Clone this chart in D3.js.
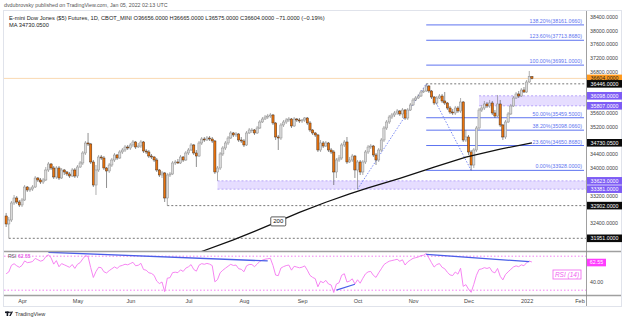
<!DOCTYPE html>
<html><head><meta charset="utf-8">
<script src="https://cdn.jsdelivr.net/npm/d3@7"></script>
<style>body{margin:0;background:#fff}svg{display:block;font-family:"Liberation Sans",Arial,sans-serif}</style>
</head><body><svg id="c" width="624" height="322"></svg>
<script>
// ---------- data ----------
const firstOpen = 32600;
const closes = [32368,32484,32979,33124,33008,32921,33066,33444,33357,33386,33444,33706,33648,33590,33648,33939,34114,33997,33735,33997,
33706,33939,33881,33823,33764,33939,33764,34026,34143,34434,34725,34696,34172,33502,33939,34317,34288,33997,33910,34084,
34230,34376,34288,34463,34521,34608,34579,34667,34754,34608,34637,34754,34492,34463,34346,34317,34230,33939,33794,33852,
33124,33794,33823,34143,34172,34143,34317,34230,34434,34521,34667,34434,34346,34725,34841,34812,34870,34841,34783,33881,
33997,34405,34579,34725,34870,35016,34958,34987,34812,34783,34667,35016,35103,35103,35016,35161,35336,35423,35481,35510,
35540,35307,34899,34870,35249,35336,35394,35423,35220,35423,35394,35365,35394,35452,35307,35103,35016,34958,34521,34725,
34637,34725,34521,34463,33881,34230,34288,34667,34754,34172,34230,34346,33939,34172,33881,34172,34463,34608,34637,34376,
34230,34521,34812,35161,35336,35481,35540,35598,35656,35569,35685,35452,35685,35831,35976,36034,36092,36209,36238,36383,
36238,36063,35889,36034,36092,35947,35889,35743,35627,35598,35743,35656,35918,34812,34899,34463,34084,34521,35161,35685,
35743,35860,35802,35889,35598,35510,35860,35249,34899,35336,35569,35802,36034,36151,36092,36267,36209,36500,36656,36604];
const highs = [32688,32571,33037,33212,33182,33066,33124,33502,33473,33444,33502,33764,33735,33706,33706,34026,34172,34143,34055,34055,
34055,33997,33968,33910,33881,33997,33997,34084,34201,34492,34783,35016,34725,34230,34084,34376,34376,34346,34026,34143,
34288,34434,34405,34521,34579,34667,34667,34725,34812,34783,34725,34812,34783,34550,34521,34405,34346,34288,33968,33910,
33881,33852,33881,34201,34230,34259,34376,34346,34492,34579,34725,34696,34521,34783,34899,34899,34928,34928,34899,34812,
34055,34463,34637,34783,34928,35074,35045,35045,35016,34899,34841,35074,35161,35161,35132,35220,35394,35481,35540,35569,
35598,35569,35336,34958,35307,35394,35452,35481,35452,35481,35452,35452,35423,35481,35481,35365,35132,35045,34987,34812,
34783,34783,34754,34579,34521,34288,34376,34725,34812,34899,34317,34405,34376,34230,34230,34230,34521,34667,34696,34667,
34434,34579,34870,35220,35394,35540,35598,35656,35714,35685,35743,35714,35743,35889,36034,36092,36151,36267,36325,36446,
36412,36267,36092,36092,36151,36151,36209,35918,35802,35714,35802,35802,36034,35947,35103,34958,34521,34579,35220,35743,
35831,35947,35918,35976,35947,35685,36122,35976,35278,35394,35627,35860,36092,36209,36238,36325,36354,36558,36820,36665];
const lows = [32280,31951,32426,32921,32950,32862,32862,33037,33299,33299,33328,33415,33590,33532,33532,33619,33881,33939,33677,33677,
33648,33677,33794,33764,33706,33735,33706,33706,33997,34084,34376,34637,34114,33444,33212,33881,34230,33939,33415,33852,
34026,34172,34230,34259,34405,34463,34521,34521,34608,34550,34579,34579,34434,34405,34288,34259,34172,33881,33735,33706,
33008,32902,33735,33794,34084,34114,34114,34172,34201,34376,34492,34376,34026,34317,34667,34754,34783,34783,34725,33823,
33623,33939,34346,34521,34667,34841,34899,34899,34754,34725,34608,34637,34987,35016,34958,34987,35132,35307,35394,35423,
35452,35249,34812,34521,34812,35190,35278,35336,35161,35190,35336,35307,35307,35336,35249,35045,34958,34899,34463,34463,
34579,34608,34463,34405,33502,33706,34172,34230,34608,34114,34143,34172,33706,33381,33794,33794,34114,34405,34550,34317,
34084,34172,34463,34754,35103,35278,35423,35481,35540,35510,35452,35394,35394,35656,35802,35947,36005,36063,36180,36209,
36180,36005,35831,35831,36005,35889,35831,35685,35569,35540,35540,35598,35598,34754,34754,34376,33928,33997,34463,35103,
35627,35685,35743,35743,35540,35452,35481,35190,34812,34841,35307,35540,35772,36005,36034,36063,36180,36180,36471,36575];

const maIdx = [70,75,86,94,103,111,121,130,137,149,162,174,187,199];
const maVal = [31450,31596,31903,32151,32443,32706,33000,33246,33421,33698,34020,34312,34545,34730.05];

const monthLabels = ["Apr","May","Jun","Jul","Aug","Sep","Oct","Nov","Dec","2022","Feb"];
const monthIdx    = [6,27,47,69,90,112,133,154,175,197,217];

const fibPct = ["138.20%","123.60%","100.00%","50.00%","38.20%","23.60%","0.00%"];
const fibVal = [38161.066,37713.868,36991,35459.5,35098.066,34650.868,33928];
const fibStartIdx = 159;

const zoneTop = [36098,33623], zoneBot = [35807,33381], zoneStartIdx = [179,80];
const hLineVal = [36446,32902,31951], hLineStartIdx = [159,61,1];
const swingIdx = [133,159,176], swingVal = [33381,36446,33928];

const axisLabelVal = [36604,36446,36098,35807,34730.05,33623,33381,32902,31951];
const axisLabelKind = ["last","black","zone","zone","black","zone","zone","black","black"];

const rsiSeedGain = 110, rsiSeedLoss = 95;
const rsiTL = [[16,74.6,99,64.4],[125,30.2,132,37],[159,72.2,198,63.5]];
const rsiLastText = "62.55";

// ---------- layout ----------
const svg = d3.select("#c");
const plotR = 586, mainTop = 12, mainBot = 251, rsiTop = 252, rsiBot = 295;
const x = d3.scaleLinear().domain([0,199]).range([6.15, 6.15+199*2.642]);
const y = d3.scaleLinear().domain([31951,38400]).range([238.3,16.7]);
const yr = d3.scaleLinear().domain([30,70]).range([290.2,256.2]);

const defs = svg.append("defs");
defs.append("clipPath").attr("id","cm").append("rect").attr("x",4).attr("y",mainTop).attr("width",plotR-4).attr("height",mainBot-mainTop);
defs.append("clipPath").attr("id","cr").append("rect").attr("x",4).attr("y",rsiTop).attr("width",plotR-4).attr("height",rsiBot-rsiTop);

// frame
svg.append("rect").attr("x",3.5).attr("y",10.5).attr("width",618).attr("height",296).attr("fill","#fff").attr("stroke","#e0e3eb");

const main = svg.append("g").attr("clip-path","url(#cm)");

// zones
zoneTop.forEach((t,k)=>{
  const x0 = x(zoneStartIdx[k]);
  main.append("rect").attr("x",x0).attr("y",y(t)).attr("width",plotR-x0).attr("height",y(zoneBot[k])-y(t)).attr("fill","#e6ddff");
  [t,zoneBot[k]].forEach(v=>main.append("line").attr("x1",x0).attr("x2",plotR).attr("y1",y(v)).attr("y2",y(v))
     .attr("stroke","#9d86f5").attr("stroke-width",0.7).attr("stroke-dasharray","2,2"));
});
// horizontal dashed levels
hLineVal.forEach((v,k)=>main.append("line").attr("x1",x(hLineStartIdx[k])).attr("x2",plotR).attr("y1",y(v)).attr("y2",y(v))
   .attr("stroke","#555").attr("stroke-width",0.8).attr("stroke-dasharray","2,2"));
// last price line
main.append("line").attr("x1",4).attr("x2",plotR).attr("y1",y(closes[199])).attr("y2",y(closes[199])).attr("stroke","#f8cfa0").attr("stroke-width",0.8);
// fib lines
fibVal.forEach((v,k)=>{
  main.append("line").attr("x1",x(fibStartIdx)).attr("x2",584).attr("y1",y(v)).attr("y2",y(v)).attr("stroke","#5d73f0").attr("stroke-width",1);
  main.append("text").attr("x",582).attr("y",y(v)-2).attr("text-anchor","end").attr("font-size",5.3).attr("fill","#5d73f0")
     .text(`${fibPct[k]}(${v.toFixed(4)})`);
});
// swing dotted lines
main.append("path").attr("d",d3.line().x(d=>x(d[0])).y(d=>y(d[1]))(swingIdx.map((d,i)=>[d,swingVal[i]])))
   .attr("fill","none").attr("stroke","#6d7ff2").attr("stroke-width",0.9).attr("stroke-dasharray","1.5,1.5");

// candles
const opens = closes.map((c,i)=> i===0 ? firstOpen : closes[i-1]);
const cg = main.append("g");
closes.forEach((c,i)=>{
  const o = opens[i], up = c >= o, cx = x(i);
  cg.append("line").attr("x1",cx).attr("x2",cx).attr("y1",y(highs[i])).attr("y2",y(lows[i])).attr("stroke", up?"#777":"#444").attr("stroke-width",0.6);
  const top = y(Math.max(o,c)), h = Math.max(0.8, Math.abs(y(o)-y(c)));
  cg.append("rect").attr("x",cx-1.1).attr("y",top).attr("width",2.2).attr("height",h)
    .attr("fill", up?"#dadada":"#e8720c").attr("stroke", up?"#8a8a8a":"#4a3220").attr("stroke-width",0.5);
});

// MA 200
main.append("path").attr("d",d3.line().x(d=>x(d[0])).y(d=>y(d[1]))(maIdx.map((d,i)=>[d,maVal[i]])))
   .attr("fill","none").attr("stroke","#111").attr("stroke-width",1.3);
const lblI = 4;
main.append("rect").attr("x",x(maIdx[lblI])-7.5).attr("y",y(maVal[lblI])-4.5).attr("width",15).attr("height",9)
   .attr("fill","#fff").attr("stroke","#333").attr("stroke-width",0.8).attr("rx",1);
main.append("text").attr("x",x(maIdx[lblI])).attr("y",y(maVal[lblI])+2).attr("text-anchor","middle").attr("font-size",6).attr("fill","#111").text("200");

// ---------- RSI ----------
const rsi = []; let ag = rsiSeedGain, al = rsiSeedLoss, prev = firstOpen;
closes.forEach(c=>{ const d = c-prev; ag=(ag*13+Math.max(d,0))/14; al=(al*13+Math.max(-d,0))/14; rsi.push(100-100/(1+ag/al)); prev=c; });
const rg = svg.append("g").attr("clip-path","url(#cr)");
[70,30].forEach(v=>rg.append("line").attr("x1",4).attr("x2",plotR).attr("y1",yr(v)).attr("y2",yr(v))
   .attr("stroke","#f060f0").attr("stroke-width",0.8).attr("stroke-dasharray","1.5,2"));
rg.append("path").attr("d",d3.line().x((d,i)=>x(i)).y(d=>yr(d))(rsi)).attr("fill","none").attr("stroke","#f577f0").attr("stroke-width",0.9);
rsiTL.forEach(t=>rg.append("line").attr("x1",x(t[0])).attr("y1",yr(t[1])).attr("x2",x(t[2])).attr("y2",yr(t[3]))
   .attr("stroke","#4a5ee8").attr("stroke-width",1.3));
svg.append("text").attr("x",8).attr("y",258).attr("font-size",5).attr("fill","#555").text("RSI");
svg.append("text").attr("x",18).attr("y",258).attr("font-size",5).attr("fill","#e040e0").text(rsiLastText);
svg.append("rect").attr("x",553).attr("y",270).attr("width",28).attr("height",9).attr("fill","#fff").attr("stroke","#f060f0").attr("stroke-width",0.8);
svg.append("text").attr("x",567).attr("y",277).attr("text-anchor","middle").attr("font-size",6.5).attr("font-style","italic").attr("fill","#f060f0").text("RSI (14)");

// separators
[251.5,295.5].forEach(yy=>svg.append("line").attr("x1",4).attr("x2",621).attr("y1",yy).attr("y2",yy).attr("stroke","#a0a0a0").attr("stroke-width",1.5));
svg.append("line").attr("x1",586.5).attr("x2",586.5).attr("y1",11).attr("y2",306).attr("stroke","#888").attr("stroke-width",0.8);

// price axis
const tickVals = d3.range(32000,38401,400).filter(v=>axisLabelVal.every(a=>Math.abs(y(a)-y(v))>6));
const ax = svg.append("g").attr("transform",`translate(${plotR},0)`)
  .call(d3.axisRight(y).tickValues(tickVals).tickSize(0).tickPadding(4).tickFormat(d=>d.toFixed(4)));
ax.select(".domain").remove();
ax.selectAll("text").attr("font-size",5.3).attr("fill","#444").attr("font-family","Liberation Sans, Arial");
const kindFill = {last:"#ff9a1f", black:"#0b0b0b", zone:"#7d5cf5"};
axisLabelVal.forEach((v,k)=>{
  const kind = axisLabelKind[k];
  svg.append("rect").attr("x",587).attr("y",y(v)-3.8).attr("width",35).attr("height",7.6).attr("fill",kindFill[kind]);
  svg.append("text").attr("x",604.5).attr("y",y(v)+1.9).attr("text-anchor","middle").attr("font-size",5.3)
     .attr("fill", kind==="last"?"#222":"#fff").text(v.toFixed(4));
});
// RSI axis
svg.append("rect").attr("x",587).attr("y",yr(62.55)-3.8).attr("width",19).attr("height",7.6).attr("fill","#ff3dff");
svg.append("text").attr("x",596.5).attr("y",yr(62.55)+1.9).attr("text-anchor","middle").attr("font-size",5.3).attr("fill","#fff").text(rsiLastText);
svg.append("text").attr("x",590).attr("y",yr(40)+1.9).attr("font-size",5.3).attr("fill","#444").text("40.00");

// time axis
const xa = svg.append("g").attr("transform","translate(0,296)")
  .call(d3.axisBottom(x).tickValues(monthIdx).tickSize(0).tickPadding(3).tickFormat((d,i)=>monthLabels[i]));
xa.select(".domain").remove();
xa.selectAll("text").attr("font-size",5.5).attr("fill","#444").attr("font-family","Liberation Sans, Arial");

// header
svg.append("text").attr("x",4).attr("y",7).attr("font-size",5.3).attr("fill","#555").text("dvdubrovsky published on TradingView.com, Jan 05, 2022 02:13 UTC");
const hd = svg.append("text").attr("x",9).attr("y",20).attr("font-size",5.7).attr("fill","#222");
hd.append("tspan").text("E-mini Dow Jones ($5) Futures, 1D, CBOT_MINI  ");
hd.append("tspan").text("O36656.0000  H36665.0000  L36575.0000  C36604.0000  −71.0000 (−0.19%)");
svg.append("text").attr("x",9).attr("y",26.5).attr("font-size",5.7).attr("fill","#222").text("MA  34730.0500");

// TradingView logo
const lg = svg.append("g").attr("fill","#131722");
lg.append("rect").attr("x",5).attr("y",311.5).attr("width",4).attr("height",1.6);
lg.append("rect").attr("x",6.6).attr("y",311.5).attr("width",1.6).attr("height",4.5);
lg.append("circle").attr("cx",10).attr("cy",312.3).attr("r",0.9);
lg.append("path").attr("d","M9.2,316 L11.5,311.5 L13,311.5 L10.7,316 Z");
svg.append("text").attr("x",15).attr("y",316).attr("font-size",5.5).attr("fill","#333").text("TradingView");
</script></body></html>
